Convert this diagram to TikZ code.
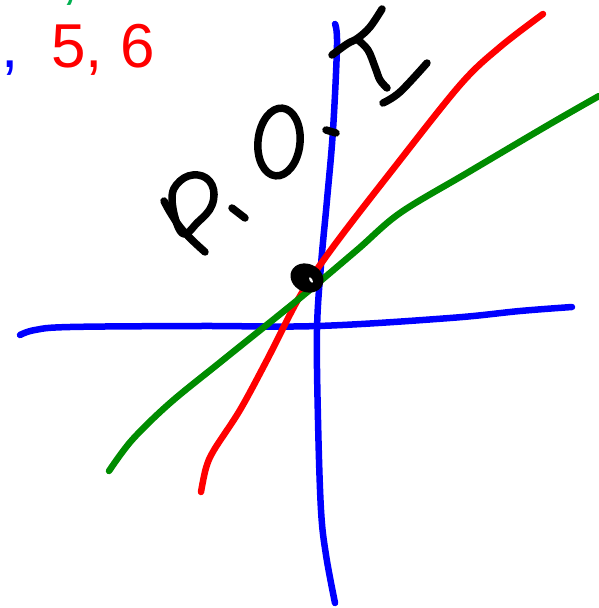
\documentclass[tikz,border=0pt]{standalone}
\usepackage{fontspec}
\setmainfont{Liberation Sans}
\definecolor{penblue}{RGB}{0,0,255}
\definecolor{penred}{RGB}{255,0,0}
\definecolor{pengreen}{RGB}{0,140,0}
\definecolor{txtgreen}{RGB}{0,176,80}
\begin{document}
\begin{tikzpicture}[x=1pt,y=-1pt,
  pen/.style={line width=6.5pt,line cap=round,line join=round},
  ink/.style={pen,black,line width=7.5pt},
  lbl/.style={inner sep=0pt,anchor=base west,font=\fontsize{62}{70}\selectfont}]
\useasboundingbox (0,0) rectangle (599,608);
% labels
\node[lbl,text=txtgreen] (gc) at (61,-3) {,};
\node[lbl,text=penblue] (bc) at (1,67) {,};
\node[lbl,text=penred] (rt) at (51,67) {5, 6};
% blue axes
\draw[pen,penblue] plot[smooth,tension=0.6] coordinates {(335,24) (337,45) (333,130) (327,200) (321,265) (317,330) (318,420) (321,510) (326,555) (335,603)};
\draw[pen,penblue] plot[smooth,tension=0.6] coordinates {(20,335) (35,330) (70,327) (200,326) (318,326) (450,318) (520,311) (572,307)};
% red line
\draw[pen,penred] plot[smooth,tension=0.55] coordinates {(201,492) (206,468) (214,450) (240,410) (267,360) (300,296) (333,247) (390,173) (460,85) (500,47) (543,14)};
% green line
\draw[pen,pengreen] plot[smooth,tension=0.55] coordinates {(109,471) (132,440) (170,403) (223,360) (300,298) (357,250) (400,213) (467,173) (550,124) (599,96)};
% point of intersection
\fill[black,rotate around={-25:(307,278)}] (307,278) ellipse [x radius=17pt,y radius=14pt];
\fill[white,rotate around={-60:(311,280)}] (311,280) ellipse [x radius=3pt,y radius=1.3pt];
% handwritten P.O.I
\draw[ink] plot[smooth,tension=0.6] coordinates {(164,201) (170,212) (180,227) (192,240) (205,252)};
\draw[ink] plot[smooth cycle,tension=0.7] coordinates {(182,233) (172,200) (180,181) (198,175) (212,185) (212,205) (198,222)};
\draw[ink] (232,208) -- (245,218);
\draw[ink,rotate around={-6:(279,142)}] (279,142) ellipse [x radius=21pt,y radius=34pt];
\draw[ink] (326,130) -- (336,133);
\draw[ink] plot[smooth,tension=0.6] coordinates {(332,55) (347,44) (358,38) (370,27) (382,9)};
\draw[ink] plot[smooth,tension=0.6] coordinates {(358,40) (368,50) (375,67) (380,80) (387,88)};
\draw[ink] plot[smooth,tension=0.6] coordinates {(383,103) (400,92) (427,63)};
\end{tikzpicture}
\end{document}
